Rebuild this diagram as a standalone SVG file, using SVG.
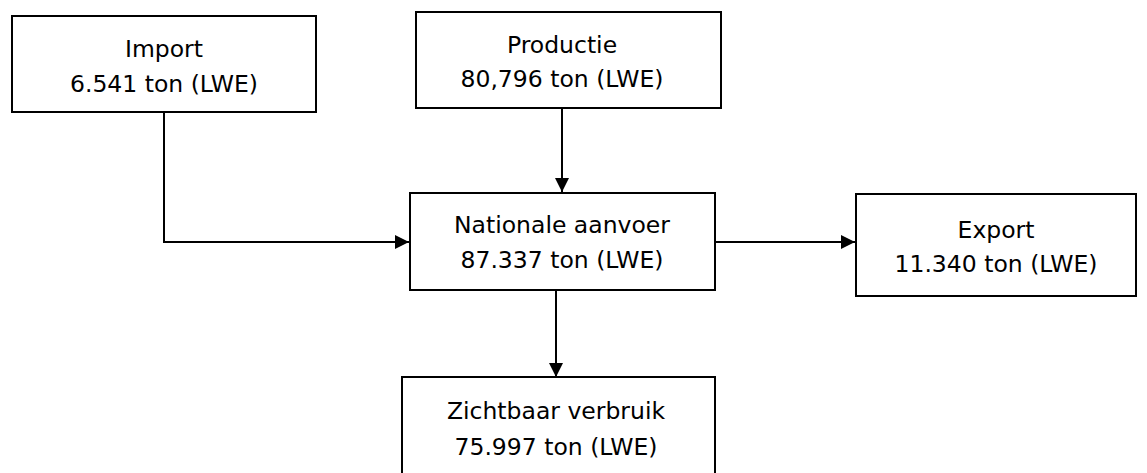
<svg xmlns="http://www.w3.org/2000/svg" width="1147" height="473" viewBox="0 0 1147 473">
<style>
.box{fill:#fff;stroke:#000;stroke-width:2}
.t{font-family:"DejaVu Sans",sans-serif;font-size:23.5px;fill:#000;text-anchor:middle}
.c{fill:none;stroke:#000;stroke-width:2}
</style>
<defs>
<marker id="ah" viewBox="0 0 14 14" refX="14" refY="7" markerWidth="14" markerHeight="14" markerUnits="userSpaceOnUse" orient="auto">
<path d="M0,0 L14,7 L0,14 Z" fill="#000"/>
</marker>
</defs>
<rect width="1147" height="473" fill="#fff"/>
<g id="connectors">
<path class="c" d="M164,112 V242 H409" marker-end="url(#ah)"/>
<path class="c" d="M562,108 V192" marker-end="url(#ah)"/>
<path class="c" d="M715,242 H855" marker-end="url(#ah)"/>
<path class="c" d="M556,290 V377" marker-end="url(#ah)"/>
</g>
<g id="import">
<rect class="box" x="12" y="16" width="304" height="96"/>
<text class="t" x="164" y="57">Import</text>
<text class="t" x="164" y="92">6.541 ton (LWE)</text>
</g>
<g id="productie">
<rect class="box" x="416" y="12" width="305" height="96"/>
<text class="t" x="562" y="53">Productie</text>
<text class="t" x="562" y="87">80,796 ton (LWE)</text>
</g>
<g id="nationale">
<rect class="box" x="410" y="193" width="305" height="97"/>
<text class="t" x="562" y="233">Nationale aanvoer</text>
<text class="t" x="562" y="268">87.337 ton (LWE)</text>
</g>
<g id="export">
<rect class="box" x="856" y="194" width="280" height="102"/>
<text class="t" x="996" y="238">Export</text>
<text class="t" x="996" y="272">11.340 ton (LWE)</text>
</g>
<g id="zichtbaar">
<rect class="box" x="402" y="377" width="313" height="110"/>
<text class="t" x="556" y="419">Zichtbaar verbruik</text>
<text class="t" x="556" y="455">75.997 ton (LWE)</text>
</g>
</svg>
